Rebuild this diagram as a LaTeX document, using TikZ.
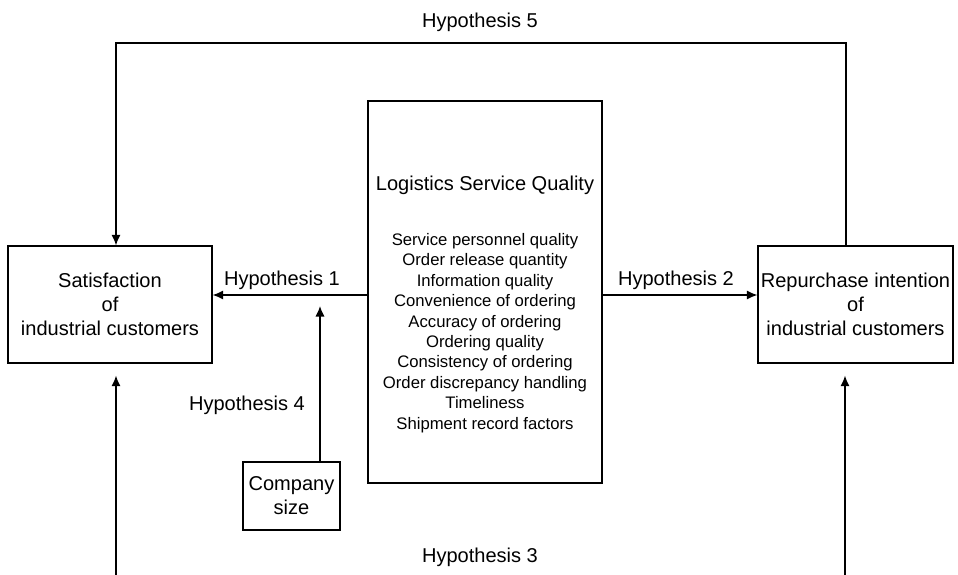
\documentclass[tikz,border=0pt]{standalone}
\usepackage{fontspec}
\setmainfont{Liberation Sans}
\usetikzlibrary{arrows.meta, positioning}
\newcommand{\bigtext}{\fontsize{11.4}{13.6}\selectfont}
\newcommand{\smalltext}{\fontsize{9.5}{11.6}\selectfont}

\begin{document}
\begin{tikzpicture}[x=0.02cm, y=-0.02cm, >={Latex[length=6pt,width=5.2pt]}, line width=0.7pt]
    \tikzstyle{every node}=[font=\bigtext, align=center];
    \tikzstyle{box}=[draw, inner sep=0pt];
    \useasboundingbox (0,0) rectangle (958,575);
    % boxes
    \node[box, minimum width=4.08cm, minimum height=2.34cm] (sat) at (110,304.5)
        {Satisfaction\\of\\industrial customers};
    \node[box, minimum width=3.9cm, minimum height=2.34cm] (rep) at (855.5,304.5)
        {Repurchase intention\\of\\industrial customers};
    \node[box, minimum width=4.68cm, minimum height=7.64cm] (lsq) at (485,292) {};
    \node[box, minimum width=1.94cm, minimum height=1.36cm] (size) at (291.5,496)
        {Company\\size};
    \node (lsqtitle) at (485,185) {Logistics Service Quality};
    \node[font=\smalltext] (lsqlist) at (485,333) {Service personnel quality\\
        Order release quantity\\Information quality\\Convenience of ordering\\
        Accuracy of ordering\\Ordering quality\\Consistency of ordering\\
        Order discrepancy handling\\Timeliness\\Shipment record factors};
    % hypothesis arrows
    \coordinate (h1) at (0,295);
    \draw[->] (lsq.west |- h1) -- (sat.east |- h1);
    \draw[->] (lsq.east |- h1) -- (rep.west |- h1);
    \coordinate (h4tip) at (320,306);
    \draw[->] (size.north -| h4tip) -- (h4tip);
    \coordinate (h5top) at (0,43);
    \coordinate (h5left) at (116,0);
    \coordinate (h5right) at (846,0);
    \draw[->] (rep.north -| h5right) -- (h5right |- h5top) -- (h5left |- h5top) -- (sat.north -| h5left);
    \coordinate (h3left) at (116,575);
    \coordinate (h3right) at (845,575);
    \draw[->, shorten >=0.24cm] (h3left) -- (sat.south -| h3left);
    \draw[->, shorten >=0.24cm] (h3right) -- (rep.south -| h3right);
    % labels
    \node (hypo5) at (480,22) {Hypothesis 5};
    \node (hypo1) at (282,280) {Hypothesis 1};
    \node (hypo2) at (676,280) {Hypothesis 2};
    \node (hypo4) at (247,405) {Hypothesis 4};
    \node (hypo3) at (480,557) {Hypothesis 3};
\end{tikzpicture}
\end{document}
